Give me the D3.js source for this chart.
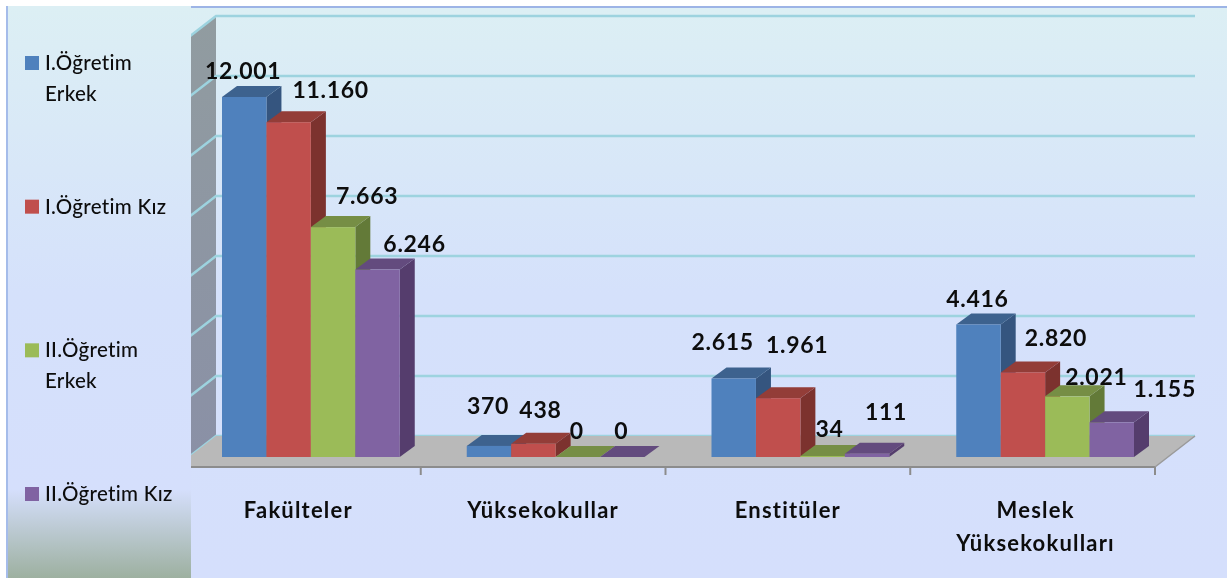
<!DOCTYPE html>
<html>
<head>
<meta charset="utf-8">
<script src="https://cdn.jsdelivr.net/npm/d3@7"></script>
<style>
  html, body { margin: 0; padding: 0; background: #fff; overflow: hidden; }
  text { font-family: Lato, "Open Sans", sans-serif; fill: #0c0c0c; }
</style>
</head>
<body>
<script>
// chart data
var categories = ["Fakülteler", "Yüksekokullar", "Enstitüler", "Meslek Yüksekokulları"];
var seriesNames = ["I.Öğretim Erkek", "I.Öğretim Kız", "II.Öğretim Erkek", "II.Öğretim Kız"];
var erkek1 = [12001, 370, 2615, 4416];
var kiz1 = [11160, 438, 1961, 2820];
var erkek2 = [7663, 0, 34, 2021];
var kiz2 = [6246, 0, 111, 1155];
var gridTicks = [0, 2000, 4000, 6000, 8000, 10000, 12000, 14000];

var allSeries = [erkek1, kiz1, erkek2, kiz2];

// front, top and side colour per series
var colors = [
  { front: "#4f81bd", top: "#3e628e", side: "#34557f" },
  { front: "#c0504d", top: "#933c39", side: "#7c302e" },
  { front: "#9bbb59", top: "#768e44", side: "#647a38" },
  { front: "#8064a2", top: "#634b7e", side: "#543e6d" }
];

var w = 1227, h = 578;
var dim = { left: 176, right: 1155, front: 467, back: 436, top: 16, depthX: 40, panel: 191, edge: 6 };
var barDepth = { x: 15, y: 11 };
var barBase = 457;

var svg = d3.select("body").append("svg")
  .attr("width", w)
  .attr("height", h)
  .style("display", "block");

var defs = svg.append("defs");

function gradient(id, stops) {
  var g = defs.append("linearGradient").attr("id", id)
    .attr("x1", 0).attr("x2", 0).attr("y1", 0).attr("y2", 1);
  stops.forEach(function(s) {
    g.append("stop").attr("offset", s[0]).attr("stop-color", s[1]);
  });
}
gradient("bg", [[0, "#dceff4"], [0.5, "#d5e1fb"], [1, "#d5dffc"]]);
gradient("panel", [[0, "#dceff4"], [0.5, "#d5e1fb"], [0.845, "#d5dffc"], [1, "#9db0a0"]]);
gradient("wall", [[0, "#919ca0"], [1, "#8a90a6"]]);

// the reference is a soft, upscaled screenshot
defs.append("filter").attr("id", "soft")
  .attr("x", 0).attr("y", 0).attr("width", 1).attr("height", 1)
  .append("feGaussianBlur").attr("stdDeviation", 0.55);

var root = svg.append("g");

// value scale: 0 sits on the back edge of the floor
var y = d3.scaleLinear()
  .domain([0, 14000])
  .range([dim.back, dim.top]);

var x = d3.scaleBand()
  .domain(categories)
  .range([dim.left, dim.right]);

var inner = d3.scaleBand()
  .domain(d3.range(seriesNames.length))
  .range([46, x.bandwidth() - 21]);

// bars use the same value scale, shifted to their own base line
function barTop(v) { return y(v) + (barBase - dim.back); }

// background
root.append("rect")
  .attr("x", dim.edge).attr("y", dim.edge)
  .attr("width", w - dim.edge).attr("height", h - dim.edge)
  .attr("fill", "url(#bg)");

// side wall
var depthY = dim.front - dim.back;
root.append("path")
  .attr("d", d3.line()([
    [dim.left, dim.top + depthY], [dim.left + dim.depthX, dim.top],
    [dim.left + dim.depthX, dim.back], [dim.left, dim.front]
  ]))
  .attr("fill", "url(#wall)");

// gridlines on back and side wall
var grid = root.append("g").attr("class", "grid")
  .attr("fill", "none")
  .attr("stroke", "#9dd3df")
  .attr("stroke-width", 2.5);

grid.selectAll("path")
  .data(gridTicks)
  .enter()
  .append("path")
  .attr("d", function(d) {
    return d3.line()([
      [dim.left, y(d) + depthY],
      [dim.left + dim.depthX, y(d)],
      [dim.right + dim.depthX, y(d)]
    ]);
  });

// floor
root.append("path")
  .attr("d", d3.line()([
    [dim.left, dim.front], [dim.right, dim.front],
    [dim.right + dim.depthX, dim.back], [dim.left + dim.depthX, dim.back]
  ]))
  .attr("fill", "#b9b9b9")
  .attr("stroke", "none");

root.append("line")
  .attr("x1", dim.left).attr("x2", dim.right)
  .attr("y1", dim.front).attr("y2", dim.front)
  .attr("stroke", "#8c8c8c")
  .attr("stroke-width", 2);

root.append("line")
  .attr("x1", dim.right).attr("x2", dim.right + dim.depthX)
  .attr("y1", dim.front).attr("y2", dim.back)
  .attr("stroke", "#9a9a9a")
  .attr("stroke-width", 1.5);

// category ticks
var tickPos = categories.map(function(c) { return x(c); }).concat([dim.right]);
root.append("g").selectAll("line")
  .data(tickPos)
  .enter()
  .append("line")
  .attr("x1", function(d) { return d; })
  .attr("x2", function(d) { return d; })
  .attr("y1", dim.front)
  .attr("y2", dim.front + 8)
  .attr("stroke", "#8c8c8c")
  .attr("stroke-width", 2);

// 3d bars
var groups = root.append("g").selectAll("g")
  .data(categories)
  .enter()
  .append("g")
  .attr("transform", function(c) { return "translate(" + x(c) + ",0)"; });

groups.each(function(c, ci) {
  var g = d3.select(this);
  allSeries.forEach(function(values, si) {
    var x0 = inner(si), x1 = x0 + inner.bandwidth();
    var top = barTop(values[ci]);
    var dx = barDepth.x, dy = barDepth.y;

    g.append("path")
      .attr("d", d3.line()([[x1, top], [x1 + dx, top - dy], [x1 + dx, barBase - dy], [x1, barBase]]))
      .attr("fill", colors[si].side);
    g.append("path")
      .attr("d", d3.line()([[x0, top], [x0 + dx, top - dy], [x1 + dx, top - dy], [x1, top]]))
      .attr("fill", colors[si].top);
    g.append("rect")
      .attr("x", x0)
      .attr("y", top)
      .attr("width", inner.bandwidth())
      .attr("height", barBase - top)
      .attr("fill", colors[si].front);
  });
});

// value labels are hand placed in the original, so each has an offset from its bar
var labelOffsets = [
  [[-1, -18], [42, -24], [34, -23], [37, -18]],
  [[-1, -32], [7, -26], [-1, -18], [-1, -18]],
  [[-11, -29], [19, -45], [7, -19], [19, -34]],
  [[-1, -18], [33, -26], [29, -11], [53, -25]]
];

function formatValue(v) {
  return d3.format(",")(v).replace(/,/g, ".");
}

groups.each(function(c, ci) {
  var g = d3.select(this);
  allSeries.forEach(function(values, si) {
    var off = labelOffsets[ci][si];
    g.append("text")
      .attr("x", inner(si) + inner.bandwidth() / 2 + off[0])
      .attr("y", barTop(values[ci]) + off[1])
      .attr("text-anchor", "middle")
      .attr("font-size", 23)
      .attr("font-weight", 700)
      .attr("letter-spacing", 0.7)
      .text(formatValue(values[ci]));
  });
});

// category labels, the last one wraps
groups.each(function(c) {
  var wrapped = c === "Meslek Yüksekokulları";
  var lines = wrapped ? ["Meslek", "Yüksekokulları"] : [c];
  var g = d3.select(this);
  lines.forEach(function(line, i) {
    g.append("text")
      .attr("x", x.bandwidth() / 2 + (wrapped ? 3 : 0))
      .attr("y", 518 + i * 33)
      .attr("text-anchor", "middle")
      .attr("font-size", 22)
      .attr("font-weight", 700)
      .attr("letter-spacing", 1.2)
      .text(line);
  });
});

// legend panel covers the front of the side wall
root.append("rect")
  .attr("x", dim.edge).attr("y", dim.edge)
  .attr("width", dim.panel - dim.edge).attr("height", h - dim.edge)
  .attr("fill", "url(#panel)");

root.append("rect")
  .attr("x", dim.edge).attr("y", dim.edge)
  .attr("width", 2).attr("height", h - dim.edge)
  .attr("fill", "#a5bcea");

root.append("rect")
  .attr("x", dim.panel).attr("y", dim.edge)
  .attr("width", w - dim.panel).attr("height", 2)
  .attr("fill", "#9db4e6");

// legend
var legendRows = [
  ["I.Öğretim", "Erkek"],
  ["I.Öğretim Kız"],
  ["II.Öğretim", "Erkek"],
  ["II.Öğretim Kız"]
];
var legendY = d3.scalePoint()
  .domain(seriesNames)
  .range([70, 501]);

var legend = root.append("g").selectAll("g")
  .data(seriesNames)
  .enter()
  .append("g")
  .attr("transform", function(d) { return "translate(25," + legendY(d) + ")"; });

legend.append("rect")
  .attr("y", -14)
  .attr("width", 14)
  .attr("height", 14)
  .attr("fill", function(d, i) { return colors[i].front; });

legend.each(function(d, i) {
  var g = d3.select(this);
  legendRows[i].forEach(function(line, j) {
    g.append("text")
      .attr("x", 20)
      .attr("y", j * 31)
      .attr("font-size", 20.5)
      .attr("font-weight", 500)
      .attr("letter-spacing", 0.3)
      .text(line);
  });
});

root.attr("filter", "url(#soft)");
</script>
</body>
</html>
